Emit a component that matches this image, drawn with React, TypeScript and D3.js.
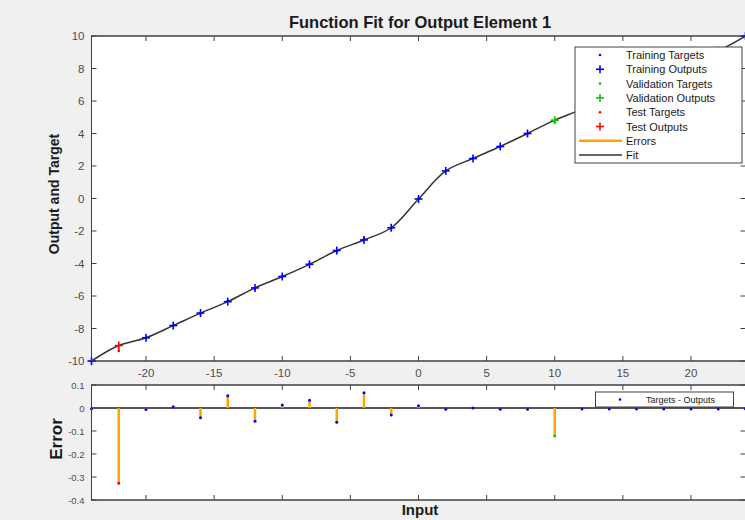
import React from "react";
import * as d3 from "d3";

const inputs = [-24, -22, -20, -18, -16, -14, -12, -10, -8, -6, -4, -2, 0, 2, 4, 6, 8, 10, 12, 14, 16, 18, 20, 22, 24];
const outputs = [-10.0, -9.05, -8.57, -7.82, -7.05, -6.35, -5.5, -4.8, -4.05, -3.2, -2.55, -1.8, -0.03, 1.7, 2.46, 3.2, 4.0, 4.82, 5.5, 6.3, 7.0, 7.8, 8.55, 9.1, 10.0];
const errors = [-0.003, -0.327, -0.007, 0.005, -0.042, 0.053, -0.058, 0.013, 0.034, -0.062, 0.066, -0.03, 0.01, -0.005, 0.0, -0.005, -0.005, -0.122, -0.004, -0.004, -0.004, -0.004, -0.004, -0.004, -0.004];
const sets = ["train", "test", "train", "train", "train", "train", "train", "train", "train", "train", "train", "train", "train", "train", "train", "train", "train", "val", "train", "train", "train", "train", "train", "train", "train"];

const xTicks = [-20, -15, -10, -5, 0, 5, 10, 15, 20];
const yTicksTop = [10, 8, 6, 4, 2, 0, -2, -4, -6, -8, -10];
const yTicksBot = [0.1, 0, -0.1, -0.2, -0.3, -0.4];

const legendItems = [
  { label: "Training Targets", kind: "dot", color: "#0000ff" },
  { label: "Training Outputs", kind: "plus", color: "#0000ff" },
  { label: "Validation Targets", kind: "dot", color: "#00cc00" },
  { label: "Validation Outputs", kind: "plus", color: "#00cc00" },
  { label: "Test Targets", kind: "dot", color: "#ff0000" },
  { label: "Test Outputs", kind: "plus", color: "#ff0000" },
  { label: "Errors", kind: "line", color: "#ffa500" },
  { label: "Fit", kind: "line", color: "#333333" },
];

const setColor: Record<string, string> = { train: "#0000ff", val: "#00cc00", test: "#ff0000" };

const FONT = "'Liberation Sans', Arial, Helvetica, sans-serif";
const AXC = "#404040";
const TXC = "#4d4d4d";

export default function App() {
  const L = 91.5, R = 745.5;
  const T1 = 36, B1 = 361;
  const T2 = 385, B2 = 500;
  const x = d3.scaleLinear().domain([-24, 24]).range([L, R]);
  const y1 = d3.scaleLinear().domain([-10, 10]).range([B1, T1]);
  const y2 = d3.scaleLinear().domain([-0.4, 0.1]).range([B2, T2]);

  const pts = inputs.map((v, i) => ({ x: v, o: outputs[i], t: outputs[i] + errors[i], e: errors[i], s: sets[i] }));
  const fit = d3.line<{ x: number; o: number }>().x(d => x(d.x)).y(d => y1(d.o)).curve(d3.curveCatmullRom.alpha(0.5))(pts) || "";

  const plus = (cx: number, cy: number, color: string, k: string) => (
    <g key={k} stroke={color} strokeWidth={1.6}>
      <line x1={cx - 4} x2={cx + 4} y1={cy} y2={cy} />
      <line x1={cx} x2={cx} y1={cy - 4} y2={cy + 4} />
    </g>
  );

  const tk = 5;
  const frame = (top: number, bottom: number, yTicks: number[], ys: d3.ScaleLinear<number, number>) => (
    <g stroke={AXC} strokeWidth={1}>
      <rect x={L} y={top} width={R - L} height={bottom - top} fill="#ffffff" />
      {xTicks.map(t => (
        <g key={"x" + t}>
          <line x1={x(t)} x2={x(t)} y1={bottom} y2={bottom - tk} />
          <line x1={x(t)} x2={x(t)} y1={top} y2={top + tk} />
        </g>
      ))}
      {yTicks.map(t => (
        <g key={"y" + t}>
          <line x1={L} x2={L + tk} y1={ys(t)} y2={ys(t)} />
          <line x1={R} x2={R - tk} y1={ys(t)} y2={ys(t)} />
        </g>
      ))}
    </g>
  );

  return (
    <svg width={745} height={520} style={{ position: "absolute", left: 0, top: 0, fontFamily: FONT }}>
      <rect x={0} y={0} width={745} height={520} fill="#f0f0f0" />
      {frame(T1, B1, yTicksTop, y1)}
      {frame(T2, B2, yTicksBot, y2)}

      {/* top plot */}
      <path d={fit} fill="none" stroke="#333333" strokeWidth={1.5} />
      {pts.map((p, i) => (
        <line key={"e" + i} x1={x(p.x)} x2={x(p.x)} y1={y1(p.o)} y2={y1(p.t)} stroke="#ffa500" strokeWidth={2} />
      ))}
      {pts.map((p, i) => plus(x(p.x), y1(p.o), setColor[p.s], "p" + i))}
      {pts.map((p, i) => (
        <circle key={"t" + i} cx={x(p.x)} cy={y1(p.t)} r={1.3} fill={setColor[p.s]} />
      ))}

      {/* bottom plot */}
      <line x1={L} x2={R} y1={y2(0)} y2={y2(0)} stroke="#555555" strokeWidth={2} />
      {pts.map((p, i) => (
        <line key={"s" + i} x1={x(p.x)} x2={x(p.x)} y1={y2(0)} y2={y2(p.e)} stroke="#ffa500" strokeWidth={2.5} />
      ))}
      {pts.map((p, i) => (
        <circle key={"d" + i} cx={x(p.x)} cy={y2(p.e)} r={1.5} fill={setColor[p.s]} />
      ))}

      <rect x={L} y={T1} width={R - L} height={B1 - T1} fill="none" stroke={AXC} strokeWidth={1} />
      <rect x={L} y={T2} width={R - L} height={B2 - T2} fill="none" stroke={AXC} strokeWidth={1} />

      {/* tick labels */}
      <g fill={TXC} fontSize={11.5}>
        {xTicks.map(t => (
          <text key={"xl" + t} x={x(t)} y={B1 + 16} textAnchor="middle">{t}</text>
        ))}
        {yTicksTop.map(t => (
          <text key={"yl" + t} x={L - 7} y={y1(t) + 4} textAnchor="end">{t}</text>
        ))}
      </g>
      <g fill={TXC} fontSize={9.5}>
        {yTicksBot.map(t => (
          <text key={"yb" + t} x={L - 7} y={y2(t) + 3.5} textAnchor="end">{t}</text>
        ))}
      </g>

      {/* titles */}
      <text x={420} y={28} textAnchor="middle" fontWeight="bold" fontSize={16.5} fill="#1a1a1a">Function Fit for Output Element 1</text>
      <text x={420} y={515} textAnchor="middle" fontWeight="bold" fontSize={15} fill="#1a1a1a">Input</text>
      <text transform={`translate(59,194) rotate(-90)`} textAnchor="middle" fontWeight="bold" fontSize={14} fill="#1a1a1a">Output and Target</text>
      <text transform={`translate(62,439) rotate(-90)`} textAnchor="middle" fontWeight="bold" fontSize={17} fill="#1a1a1a">Error</text>

      {/* top legend */}
      <g>
        <rect x={575} y={47} width={167} height={116} fill="#ffffff" stroke={AXC} strokeWidth={1} />
        {legendItems.map((it, i) => {
          const cy = 55 + i * 14.3;
          return (
            <g key={"lg" + i}>
              {it.kind === "dot" && <circle cx={600} cy={cy} r={1.3} fill={it.color} />}
              {it.kind === "plus" && plus(600, cy, it.color, "lp" + i)}
              {it.kind === "line" && <line x1={579} x2={622} y1={cy} y2={cy} stroke={it.color} strokeWidth={it.color === "#ffa500" ? 2.5 : 1.5} />}
              <text x={626} y={cy + 4} fontSize={11} fill="#1a1a1a">{it.label}</text>
            </g>
          );
        })}
      </g>

      {/* bottom legend */}
      <g>
        <rect x={595.5} y={392} width={138} height={15} fill="#ffffff" stroke={AXC} strokeWidth={1} />
        <circle cx={620} cy={399.5} r={1.3} fill="#0000ff" />
        <text x={646} y={403} fontSize={9} fill="#1a1a1a">Targets - Outputs</text>
      </g>
    </svg>
  );
}
